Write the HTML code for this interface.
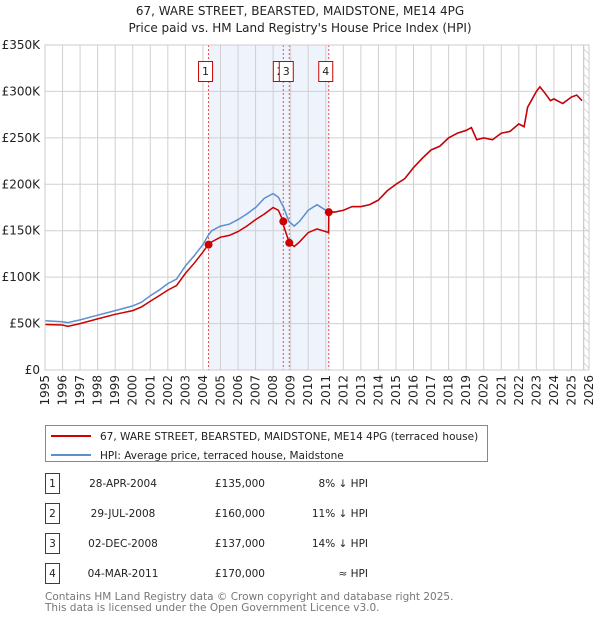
<!DOCTYPE html>
<html><head><meta charset="utf-8">
<style>
body{margin:0;background:#fff;font-family:"DejaVu Sans","Liberation Sans",sans-serif;}
svg{display:block}
</style></head>
<body>
<svg id="chart" width="600" height="620" viewBox="0 0 600 620" xmlns="http://www.w3.org/2000/svg" font-family="DejaVu Sans, Liberation Sans, sans-serif">
<defs>
<pattern id="hatch" patternUnits="userSpaceOnUse" width="6" height="6" patternTransform="rotate(-45)">
<line x1="0" y1="0" x2="0" y2="6" stroke="#bbb" stroke-width="1"/>
</pattern>
</defs>
<text x="300" y="15" text-anchor="middle" font-size="12" fill="#222">67, WARE STREET, BEARSTED, MAIDSTONE, ME14 4PG</text>
<text x="300" y="32" text-anchor="middle" font-size="12" fill="#222">Price paid vs. HM Land Registry's House Price Index (HPI)</text>
<g id="plot"></g>
<g>
<rect x="45.5" y="425.5" width="442" height="36" fill="#fff" stroke="#888"/>
<line x1="51" y1="436" x2="91" y2="436" stroke="#cc0000" stroke-width="2"/>
<text x="100" y="440" font-size="10.5" fill="#222">67, WARE STREET, BEARSTED, MAIDSTONE, ME14 4PG (terraced house)</text>
<line x1="51" y1="455" x2="91" y2="455" stroke="#5b8fd0" stroke-width="2"/>
<text x="100" y="459" font-size="10.5" fill="#222">HPI: Average price, terraced house, Maidstone</text>
</g>
<g id="table"></g>
<text x="45" y="600" font-size="10.5" fill="#777">Contains HM Land Registry data © Crown copyright and database right 2025.</text>
<text x="45" y="611" font-size="10.5" fill="#777">This data is licensed under the Open Government Licence v3.0.</text>
</svg>
<script>
const hpiYears=[1995,1996,1996.3,1997,1998,1999,2000,2000.5,2001,2001.5,2002,2002.5,2003,2003.5,2004,2004.3,2004.5,2005,2005.5,2006,2006.5,2007,2007.5,2008,2008.3,2008.6,2008.9,2009.2,2009.5,2010,2010.5,2011,2011.5,2012,2012.5,2013,2013.5,2014,2014.5,2015,2015.5,2016,2016.5,2017,2017.5,2018,2018.5,2019,2019.3,2019.6,2020,2020.5,2021,2021.5,2022,2022.3,2022.5,2023,2023.2,2023.5,2023.8,2024,2024.5,2025,2025.3,2025.6];
const hpiValues=[53,52,51,54,59,64,69,73,80,86,93,98,112,123,135,145,150,155,157,162,168,175,185,190,186,175,160,155,160,172,178,172,170,172,176,176,178,183,193,200,206,218,228,237,241,250,255,258,261,248,250,248,255,257,265,262,283,300,305,298,290,292,287,294,296,290];
const redYears=[1995,1996,1996.3,1997,1998,1999,2000,2000.5,2001,2001.5,2002,2002.5,2003,2003.5,2004,2004.3,2004.5,2005,2005.5,2006,2006.5,2007,2007.5,2008,2008.3,2008.58,2008.6,2008.92,2009.2,2009.5,2010,2010.5,2011,2011.16,2011.17,2011.5,2012,2012.5,2013,2013.5,2014,2014.5,2015,2015.5,2016,2016.5,2017,2017.5,2018,2018.5,2019,2019.3,2019.6,2020,2020.5,2021,2021.5,2022,2022.3,2022.5,2023,2023.2,2023.5,2023.8,2024,2024.5,2025,2025.3,2025.6];
const redValues=[49,48.5,47,50,55,60,64,68,74,80,86,91,104,115,127,135,138,143,145,149,155,162,168,175,172,160,155,137,133,138,148,152,149,148,170,170,172,176,176,178,183,193,200,206,218,228,237,241,250,255,258,261,248,250,248,255,257,265,262,283,300,305,298,290,292,287,294,296,290];
const saleYears=[2004.32,2008.58,2008.92,2011.17];
const salePrices=[135,160,137,170];
const saleLabels=["1","2","3","4"];
const saleDates=["28-APR-2004","29-JUL-2008","02-DEC-2008","04-MAR-2011"];
const salePriceText=["£135,000","£160,000","£137,000","£170,000"];
const saleHpiText=["8% ↓ HPI","11% ↓ HPI","14% ↓ HPI","≈ HPI"];
const yTicks=[0,50,100,150,200,250,300,350];
const yTickLabels=["£0","£50K","£100K","£150K","£200K","£250K","£300K","£350K"];

const NS="http://www.w3.org/2000/svg";
const X0=45,X1=589,Y0=370,Y1=45,YR0=1995,YR1=2026,VMAX=350;
const xs=y=>X0+(y-YR0)/(YR1-YR0)*(X1-X0);
const ys=v=>Y0-v/VMAX*(Y0-Y1);
const plot=document.getElementById('plot');
function mk(tag,attrs,parent){const e=document.createElementNS(NS,tag);for(const k in attrs)e.setAttribute(k,attrs[k]);(parent||plot).appendChild(e);return e;}
mk('rect',{x:X0,y:Y1,width:X1-X0,height:Y0-Y1,fill:'#fff'});
const sh=mk('rect',{x:xs(saleYears[0]),y:Y1,width:xs(saleYears[3])-xs(saleYears[0]),height:Y0-Y1,fill:'#eef3fc'});


const ht=mk('rect',{x:xs(2025.7),y:Y1,width:X1-xs(2025.7),height:Y0-Y1,fill:'url(#hatch)',stroke:'#bbb'});


for(let yr=YR0;yr<=YR1;yr++){
  const x=xs(yr);
  const g=mk('line',{x1:x,y1:Y1,x2:x,y2:Y0,stroke:'#d0d0d0','stroke-width':1});
  
  
  const t=mk('text',{x:0,y:0,transform:`translate(${x+4},${Y0+5}) rotate(-90)`,'text-anchor':'end','font-size':12,fill:'#222'});
  t.textContent=yr;
  
  
}
yTicks.forEach((v,i)=>{
  const y=ys(v);
  const g=mk('line',{x1:X0,y1:y,x2:X1,y2:y,stroke:'#d0d0d0','stroke-width':1});
  
  
  const t=mk('text',{x:X0-5,y:y+4,'text-anchor':'end','font-size':12,fill:'#222'});
  t.textContent=yTickLabels[i];
  
  
});
saleYears.forEach((yr,i)=>{
  const l=mk('line',{x1:xs(yr),y1:Y1,x2:xs(yr),y2:Y0,stroke:'#e85050','stroke-width':1,'stroke-dasharray':'2,2'});
  
  
});
const pts=(a,b)=>a.map((y,i)=>xs(y).toFixed(1)+','+ys(b[i]).toFixed(1)).join(' ');
const hl=mk('polyline',{points:pts(hpiYears,hpiValues),fill:'none',stroke:'#5b8fd0','stroke-width':1.5});


const rl=mk('polyline',{points:pts(redYears,redValues),fill:'none',stroke:'#cc0000','stroke-width':1.5});


saleYears.forEach((yr,i)=>{
  const c=mk('circle',{cx:xs(yr),cy:ys(salePrices[i]),r:4,fill:'#cc0000'});
  
  
});
saleYears.forEach((yr,i)=>{
  const bx=xs(yr)-10;
  const r=mk('rect',{x:bx,y:61.5,width:14,height:20,fill:'#fff',stroke:'#cc0000'});
  
  
  const t=mk('text',{x:bx+7,y:75,'text-anchor':'middle','font-size':11,fill:'#222'});
  t.textContent=saleLabels[i];
  
  
});
mk('rect',{x:X0,y:Y1,width:X1-X0,height:Y0-Y1,fill:'none',stroke:'#ccc'});
const tb=document.getElementById('table');
saleLabels.forEach((lab,i)=>{
  const y=483+i*30;
  const r=mk('rect',{x:45.5,y:y-9.5,width:14,height:20,fill:'#fff',stroke:'#cc0000'},tb);
  
  
  const t0=mk('text',{x:52.5,y:y+4,'text-anchor':'middle','font-size':10.5,fill:'#222'},tb);
  t0.textContent=lab;
  
  
  const t1=mk('text',{x:123,y:y+4,'text-anchor':'middle','font-size':10.5,fill:'#222'},tb);
  t1.textContent=saleDates[i];
  
  
  const t2=mk('text',{x:265,y:y+4,'text-anchor':'end','font-size':10.5,fill:'#222'},tb);
  t2.textContent=salePriceText[i];
  
  
  const t3=mk('text',{x:368,y:y+4,'text-anchor':'end','font-size':10.5,fill:'#222'},tb);
  t3.textContent=saleHpiText[i];
  
  
});
</script>
</body></html>
